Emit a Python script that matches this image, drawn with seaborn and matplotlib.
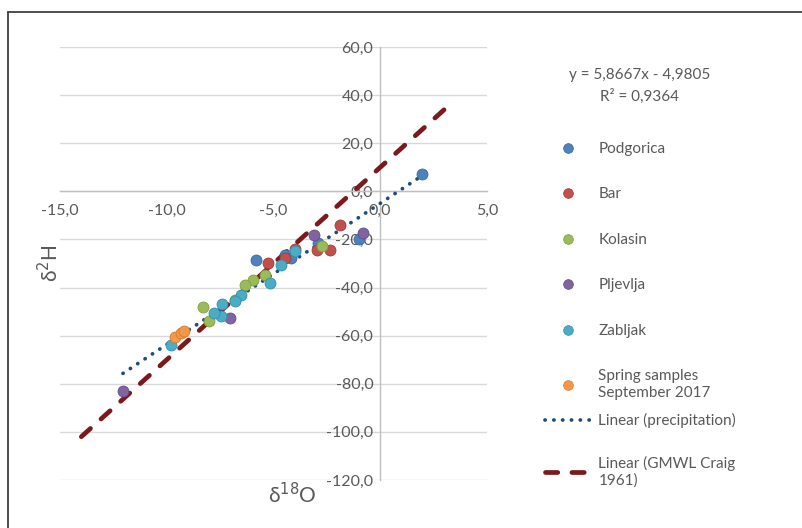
import numpy as np
import pandas as pd
import seaborn as sns
import matplotlib.pyplot as plt
from matplotlib.lines import Line2D
from matplotlib.ticker import FuncFormatter

# ---------------- data ----------------
podgorica_x = [1.97, -1.0, -2.9, -4.45, -4.2, -5.8]
podgorica_y = [7.1, -20.0, -21.4, -26.3, -27.6, -28.4]

bar_x = [-1.9, -2.35, -2.97, -4.0, -4.45, -5.25]
bar_y = [-13.8, -24.3, -24.3, -23.8, -27.8, -29.8]

kolasin_x = [-2.72, -5.4, -5.95, -6.35, -6.8, -8.3, -8.0]
kolasin_y = [-22.6, -34.6, -36.7, -38.8, -45.3, -48.0, -54.0]

pljevlja_x = [-0.8, -3.12, -7.05, -12.05]
pljevlja_y = [-17.5, -18.3, -52.5, -83.0]

zabljak_x = [-3.97, -4.65, -5.15, -6.5, -6.8, -7.4, -7.45, -7.8, -9.8]
zabljak_y = [-24.9, -30.7, -38.0, -43.0, -45.7, -47.0, -52.0, -50.5, -63.8]

spring_x = [-9.6, -9.35, -9.2]
spring_y = [-60.5, -59.0, -58.0]

series_names = ["Podgorica", "Bar", "Kolasin", "Pljevlja", "Zabljak",
                "Spring samples\nSeptember 2017"]
series_colors = ["#4F81BD", "#C0504D", "#9BBB59", "#8064A2", "#4BACC6", "#F79646"]
series_edges = ["#3A67A0", "#A03C39", "#7F9E45", "#654E85", "#3590A8", "#D47C2E"]

# regression line of precipitation: y = 5.8667x - 4.9805 over data range
precip_slope, precip_intercept = 5.8667, -4.9805
precip_x_range = [-12.05, 1.97]
# GMWL (Craig 1961): y = 8x + 10
gmwl_slope, gmwl_intercept = 8.0, 10.0
gmwl_x_range = [-14.0, 3.0]

equation_text = "y = 5,8667x - 4,9805\nR² = 0,9364"
x_ticks = [-15, -10, -5, 0, 5]
y_ticks = list(range(-120, 61, 20))

# ---------------- build tidy table ----------------
xs_all = [podgorica_x, bar_x, kolasin_x, pljevlja_x, zabljak_x, spring_x]
ys_all = [podgorica_y, bar_y, kolasin_y, pljevlja_y, zabljak_y, spring_y]
rows = []
for name, xs, ys in zip(series_names, xs_all, ys_all):
    for x, y in zip(xs, ys):
        rows.append({"site": name, "d18O": x, "d2H": y})
df = pd.DataFrame(rows)

px = np.array(precip_x_range)
line_p = pd.DataFrame({"x": px, "y": precip_slope * px + precip_intercept})
gx = np.array(gmwl_x_range)
line_g = pd.DataFrame({"x": gx, "y": gmwl_slope * gx + gmwl_intercept})

# ---------------- style ----------------
sns.set_theme(style="white")
plt.rcParams["font.family"] = ["Lato", "DejaVu Sans"]
text_col = "#595959"

fig = plt.figure(figsize=(8.03, 5.28), dpi=100)
ax = fig.add_axes([60 / 803, 1 - 480 / 528, 427 / 803, 433 / 528])

# trend lines
sns.lineplot(data=line_g, x="x", y="y", ax=ax, color="#7B1A1C", lw=3.4,
             linestyle=(0, (2.6, 3.0)), dash_capstyle="round", zorder=3,
             legend=False)
sns.lineplot(data=line_p, x="x", y="y", ax=ax, color="#1F4E79", lw=2.7,
             linestyle=(0, (0.05, 2.3)), dash_capstyle="round", zorder=4,
             legend=False)

# scatter series
for name, c, ec in zip(series_names, series_colors, series_edges):
    sub = df[df["site"] == name]
    sns.scatterplot(data=sub, x="d18O", y="d2H", ax=ax, color=c, s=62,
                    edgecolor=ec, linewidth=0.6, zorder=5, legend=False)

ax.set_xlim(-15, 5)
ax.set_ylim(-120, 60)
ax.set_xticks(x_ticks)
ax.set_yticks(y_ticks)
fmt = FuncFormatter(lambda v, p: f"{v:.1f}".replace(".", ","))
ax.xaxis.set_major_formatter(fmt)
ax.yaxis.set_major_formatter(fmt)

ax.yaxis.grid(True, color="#D9D9D9", lw=1.0, zorder=0)
ax.xaxis.grid(False)
ax.set_axisbelow(True)

for s in ["top", "right"]:
    ax.spines[s].set_visible(False)
ax.spines["left"].set_position(("data", 0))
ax.spines["bottom"].set_position(("data", 0))
for s in ["left", "bottom"]:
    ax.spines[s].set_color("#BFBFBF")
    ax.spines[s].set_linewidth(1.0)
    ax.spines[s].set_zorder(1)

ax.tick_params(axis="x", length=0, pad=9, labelsize=11.5, labelcolor=text_col)
ax.tick_params(axis="y", length=0, pad=5, labelsize=11.5, labelcolor=text_col)

ax.set_xlabel("δ$^{18}$O", fontsize=15, color=text_col)
ax.set_ylabel("δ$^{2}$H", fontsize=15, color=text_col)
ax.xaxis.set_label_coords((292 - 60) / 427, (480 - 482) / 433)
ax.yaxis.set_label_coords((62 - 60) / 427, (480 - 263) / 433)

# equation text
fig.text(640 / 803, 1 - 86 / 528, equation_text, ha="center", va="center",
         fontsize=11, color=text_col, linespacing=1.5)

# legends
marker_handles = [Line2D([0], [0], marker="o", linestyle="none",
                         markerfacecolor=c, markeredgecolor=ec,
                         markeredgewidth=0.5, markersize=7)
                  for c, ec in zip(series_colors, series_edges)]
leg1 = fig.legend(marker_handles, series_names, loc="upper left",
                  bbox_to_anchor=(545 / 803, 1 - 142 / 528), frameon=False,
                  borderpad=0, borderaxespad=0, handlelength=3.0,
                  handletextpad=0.5, labelspacing=2.06, fontsize=11,
                  labelcolor=text_col)

line_handles = [
    Line2D([0], [0], color="#1F4E79", lw=2.7, linestyle=(0, (0.05, 2.3)),
           dash_capstyle="round"),
    Line2D([0], [0], color="#7B1A1C", lw=3.4, linestyle=(0, (2.6, 3.0)),
           dash_capstyle="round"),
]
line_labels = ["Linear (precipitation)", "Linear (GMWL Craig\n1961)"]
leg2 = fig.legend(line_handles, line_labels, loc="upper left",
                  bbox_to_anchor=(545 / 803, 1 - 413 / 528), frameon=False,
                  borderpad=0, borderaxespad=0, handlelength=3.0,
                  handletextpad=0.5, labelspacing=1.85, fontsize=11,
                  labelcolor=text_col)

# chart border (left and top edges visible in the reference)
fig.add_artist(Line2D([8 / 803, 8 / 803], [0, 1 - 12 / 528],
                      transform=fig.transFigure, color="#404040", lw=1.3))
fig.add_artist(Line2D([8 / 803, 1], [1 - 12 / 528, 1 - 12 / 528],
                      transform=fig.transFigure, color="#404040", lw=1.3))

fig.savefig("out.png", dpi=100)
